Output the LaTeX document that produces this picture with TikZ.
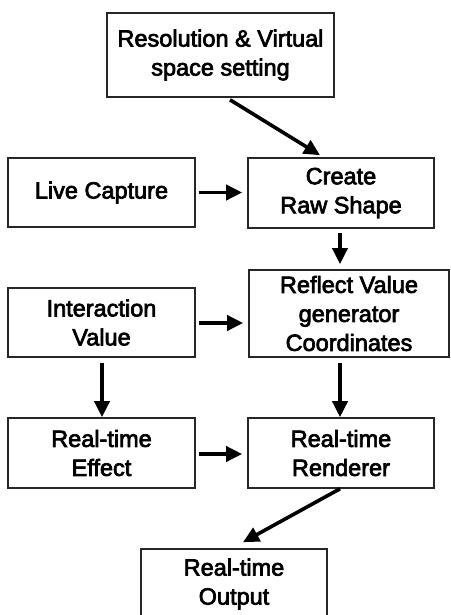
\documentclass[tikz,border=0pt]{standalone}
\usepackage{fontspec}
\newfontfamily\boxfont{Liberation Sans}[RawFeature={embolden=3}]
\usetikzlibrary{arrows.meta}
\tikzset{
  box/.style={draw=black!85, line width=1.6pt, fill=white, align=center, inner sep=0pt,
    font=\boxfont\fontsize{23.5}{29}\selectfont},
  arr/.style={-{Triangle[length=16pt,width=15pt]}, line width=3.6pt, black},
}
\begin{document}
\begin{tikzpicture}[x=1pt,y=-1pt]
\useasboundingbox (0,0) rectangle (450,615);
\clip (0,0) rectangle (450,615);
\node[box, minimum width=227pt, minimum height=84pt] (res) at (220.5,55) {Resolution \& Virtual\\space setting};
\node[box, minimum width=187pt, minimum height=69pt] (live) at (101.5,192.5) {Live Capture};
\node[box, minimum width=186pt, minimum height=70pt] (create) at (341,193) {Create\\Raw Shape};
\node[box, minimum width=187pt, minimum height=69pt] (inter) at (101.5,322.5) {Interaction\\Value};
\node[box, minimum width=200pt, minimum height=87pt] (reflect) at (349,313.5) {Reflect Value\\generator\\Coordinates};
\node[box, minimum width=187pt, minimum height=70pt] (effect) at (101.5,453) {Real-time\\Effect};
\node[box, minimum width=186pt, minimum height=70pt] (render) at (341,453) {Real-time\\Renderer};
\node[box, minimum width=186pt, minimum height=70pt] (output) at (234,584) {Real-time\\Output};

\draw[arr] ([xshift=9.5pt,yshift=-2pt]res.south) -- ([xshift=-21pt,yshift=2pt]create.north);
\draw[arr, shorten <=3pt, shorten >=5pt] (live.east) -- (live.east -| create.west);
\draw[arr, shorten <=4pt, shorten >=5pt] (create.south -| 340,0) -- (reflect.north -| 340,0);
\draw[arr, shorten <=3pt, shorten >=5pt] (inter.east |- 0,323) -- (reflect.west |- 0,323);
\draw[arr, shorten <=5pt] (inter.south -| 102,0) -- (effect.north -| 102,0);
\draw[arr, shorten <=5pt] (reflect.south -| 340,0) -- (render.north -| 340,0);
\draw[arr, shorten <=3pt, shorten >=5pt] (effect.east |- 0,454) -- (render.west |- 0,454);
\draw[arr] ([xshift=-1pt]render.south) -- ([xshift=9pt,yshift=6pt]output.north);
\end{tikzpicture}
\end{document}
